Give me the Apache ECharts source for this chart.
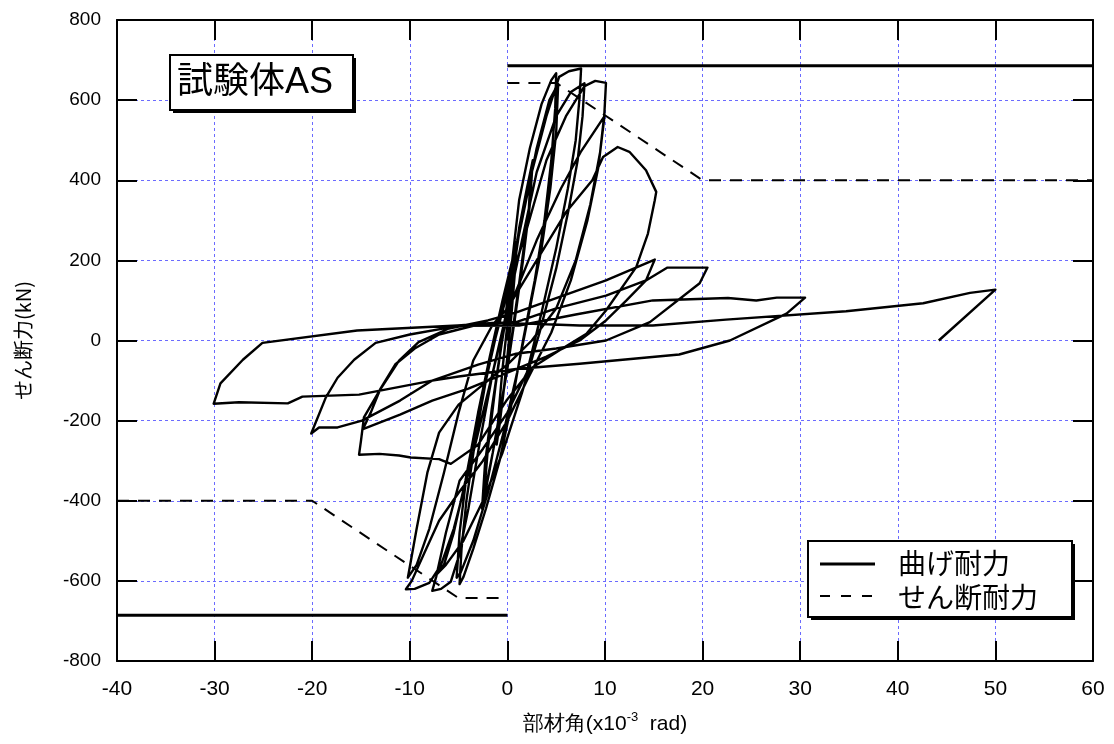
<!DOCTYPE html>
<html><head><meta charset="utf-8">
<script src="https://cdn.jsdelivr.net/npm/echarts@6/dist/echarts.min.js"></script>
<style>html,body{margin:0;padding:0;background:#fff}#c{width:1114px;height:744px}</style>
</head><body><div id="c"></div>
<script>
// ---- axis ticks ----
const xTicks = [-40, -30, -20, -10, 0, 10, 20, 30, 40, 50, 60];
const yTicks = [-800, -600, -400, -200, 0, 200, 400, 600, 800];

// ---- reference capacities ----
const flexTop = [[0, 686], [60, 686]];
const flexBot = [[-40, -686], [0, -686]];
const shearTop = [[0, 643], [5, 643], [20, 400], [60, 400]];
const shearBot = [[-40, -400], [-20, -400], [-5, -643], [0, -643]];

// ---- hysteresis path (angle x10^-3 rad, shear kN), by cycle ----
const cyc1 = [[0,0],[0.3,90],[0.6,170],[1.0,250],[0.8,180],[0.4,60],[0,-40],[-0.4,-130],[-0.8,-210],[-1.1,-260],[-0.9,-180],[-0.5,-70],[0,40]];
const cyc2a = [[0.5,150],[1.2,280],[2,380],[2.6,450],[2.3,340],[1.6,200],[0.8,60],[0,-70],[-0.9,-200],[-1.8,-320],[-2.6,-420],[-2.3,-310],[-1.6,-170],[-0.8,-40],[0,80]];
const cyc2b = [[0.6,170],[1.4,300],[2.4,420],[2.2,330],[1.3,160],[0.4,0],[-0.5,-140],[-1.5,-280],[-2.4,-390],[-2.0,-270],[-1.2,-110],[-0.3,40]];
const cyc5a = [[0.5,200],[1.2,350],[2.3,480],[3.5,590],[4.5,650],[5.0,667],[4.9,580],[4.5,450],[3.8,300],[2.8,150],[1.6,0],[0.5,-150],[-0.8,-300],[-2.2,-420],[-3.5,-520],[-4.5,-590],[-4.9,-608],[-4.7,-520],[-4.2,-400],[-3.3,-250],[-2.2,-100],[-1,30],[0.2,150]];
const cyc5b = [[1.5,300],[3,480],[4.3,600],[5.2,640],[5,520],[4.4,380],[3.5,230],[2.3,80],[1,-80],[-0.5,-240],[-2,-380],[-3.5,-500],[-4.8,-580],[-5.2,-592],[-4.9,-480],[-4.2,-340],[-3,-180],[-1.8,-40],[-0.5,100],[1,250]];
const cyc75a = [[2.5,420],[4,560],[5.3,658],[6.3,672],[7.55,679],[7.4,608],[7,500],[6.2,380],[5,230],[3.5,70],[2,-80],[0,-180],[-2.5,-270],[-4.9,-350],[-6.3,-480],[-7.3,-590],[-7.7,-625],[-6.8,-620],[-5.8,-602],[-5,-540],[-4,-420],[-2.8,-250],[-1.5,-80],[0,80],[1.5,250]];
const cyc75b = [[3,420],[5,560],[6.5,620],[7.9,642],[7.7,560],[7.2,450],[6.3,330],[5,180],[3.3,20],[1.5,-130],[-0.5,-280],[-2.5,-400],[-4.5,-500],[-6.3,-560],[-7.3,-585],[-6.5,-560],[-5.5,-480],[-4.3,-350],[-3,-180],[-1.5,-20],[0,120]];
const cyc10a = [[2,280],[4,450],[6,560],[7.9,635],[9.0,648],[10.1,643],[9.9,550],[9.3,430],[8.2,300],[6.5,150],[4.5,20],[2,-100],[0,-200],[-2.5,-300],[-5,-380],[-7,-450],[-8.5,-530],[-9.8,-600],[-10.4,-621],[-9.5,-620],[-8,-605],[-6.8,-560],[-5.5,-470],[-4,-330],[-2.5,-180],[-1,-30],[0.5,100]];
const cyc10b = [[3,250],[5.5,380],[7.5,470],[9.9,558],[9.5,470],[8.5,340],[7,200],[5,80],[2.5,0],[0,-60],[-2.5,-110],[-5,-160],[-7,-230],[-8.2,-330],[-9.3,-470],[-10.2,-592],[-9.3,-560],[-8,-470],[-6.5,-330],[-5,-180],[-3.5,-50],[-1.5,40],[0,80]];
const cyc15a = [[3,200],[6,320],[8.7,400],[9.8,458],[11.3,483],[12.5,471],[14.2,425],[15.25,371],[15.1,350],[14.4,267],[13.2,183],[10.1,75],[8.1,17],[5.3,-25],[2.6,-67],[-0.1,-150],[-3,-260],[-5.8,-308],[-7,-296],[-9.9,-292],[-11.1,-287],[-13.1,-283],[-15.2,-285],[-15,-250],[-14.7,-192],[-13.1,-125],[-11.1,-50],[-9.1,-4],[-6,30],[-2,50],[1,71],[5.5,110],[10.1,150],[15.1,202]];
const cyc15b = [[14.2,150],[12.2,100],[10.1,50],[7.4,0],[4,-40],[0,-80],[-4,-120],[-7.7,-150],[-11,-185],[-14.8,-221],[-14,-180],[-13,-120],[-11.5,-60],[-9.5,-20],[-7,15],[-3,40],[0.9,46],[5,80],[10.1,112],[14.2,150],[16.4,182],[20.5,182]];
const cyc20 = [[19.7,143],[14.6,46],[10.1,0],[5,-20],[0.9,-33],[-3,-60],[-7.7,-100],[-11,-150],[-14.9,-200],[-17.4,-217],[-19.3,-217],[-20.1,-232],[-18.6,-142],[-17.4,-93],[-15.7,-48],[-13.5,-6],[-10,15],[-4.9,37],[1.2,37.5],[7,65],[14.9,100],[22.6,106],[25.5,100],[27.6,107],[30.5,107]];
const cyc30 = [[28.6,67],[22.8,0],[17.6,-35],[7.4,-58],[0.9,-71],[-5,-90],[-7.7,-100],[-15.2,-135],[-21,-140],[-22.5,-157],[-27.5,-154],[-30.1,-158],[-29.4,-107],[-27.1,-48],[-25.1,-6],[-15.4,25],[-5.1,37.5],[-0.8,45],[7.4,37.5],[14.9,37.5],[22.4,52],[34.7,73],[42.6,93],[47.4,119],[50,127],[44.2,0]];

const hysteresis = [].concat(cyc1, cyc2a, cyc2b, cyc5a, cyc5b, cyc75a, cyc75b, cyc10a, cyc10b, cyc15a, cyc15b, cyc20, cyc30);

const chart = echarts.init(document.getElementById('c'), null, {renderer: 'canvas'});
const gridColor = '#6b6bff';
const numFont = "'Liberation Sans', Arial, sans-serif";
const narrowFont = "'Liberation Sans Narrow', 'Liberation Sans', Arial, sans-serif";
const cjkFont = "'Noto Sans CJK JP', 'Liberation Sans', sans-serif";
const mixFont = "'Liberation Sans', 'Noto Sans CJK JP', sans-serif";

const baseAxis = {
  type: 'value', interval: 10, min: xTicks[0], max: xTicks[xTicks.length - 1]
};
chart.setOption({
  animation: false,
  backgroundColor: '#fff',
  grid: {left: 117, top: 20, width: 976, height: 641, containLabel: false},
  xAxis: [
    Object.assign({}, baseAxis, {
      position: 'bottom',
      axisLine: {show: true, onZero: false, lineStyle: {color: '#000', width: 2}},
      axisTick: {show: true, inside: true, length: 20, lineStyle: {color: '#000', width: 2}},
      axisLabel: {show: true, margin: 18, fontSize: 21, color: '#000', fontFamily: narrowFont},
      splitLine: {show: true, lineStyle: {color: gridColor, width: 1, type: [3, 3]}},
      name: '部材角(x10{sup|-3}  rad)', nameLocation: 'middle', nameGap: 50,
      nameTextStyle: {fontSize: 21, color: '#000', fontFamily: narrowFont,
        rich: {sup: {fontSize: 13, color: '#000', fontFamily: narrowFont, padding: [0, 0, 14, 0]}}}
    }),
    Object.assign({}, baseAxis, {
      position: 'top',
      axisLine: {show: true, onZero: false, lineStyle: {color: '#000', width: 2}},
      axisTick: {show: true, inside: true, length: 20, lineStyle: {color: '#000', width: 2}},
      axisLabel: {show: false}, splitLine: {show: false}
    })
  ],
  yAxis: [
    {
      type: 'value', min: yTicks[0], max: yTicks[yTicks.length - 1], interval: 200, position: 'left',
      axisLine: {show: true, onZero: false, lineStyle: {color: '#000', width: 2}},
      axisTick: {show: true, inside: true, length: 20, lineStyle: {color: '#000', width: 2}},
      axisLabel: {show: true, margin: 16, fontSize: 19, color: '#000', fontFamily: numFont},
      splitLine: {show: true, lineStyle: {color: gridColor, width: 1, type: [3, 3]}},
      name: 'せん断力(kN)', nameLocation: 'middle', nameGap: 84, nameRotate: 90,
      nameTextStyle: {fontSize: 20, color: '#000', fontFamily: cjkFont}
    },
    {
      type: 'value', min: yTicks[0], max: yTicks[yTicks.length - 1], interval: 200, position: 'right',
      axisLine: {show: true, onZero: false, lineStyle: {color: '#000', width: 2}},
      axisTick: {show: true, inside: true, length: 20, lineStyle: {color: '#000', width: 2}},
      axisLabel: {show: false}, splitLine: {show: false}
    }
  ],
  series: [
    {type: 'line', name: '履歴', data: hysteresis, showSymbol: false, symbol: 'none',
     lineStyle: {color: '#000', width: 2.4, join: 'round'}, z: 3},
    {type: 'line', name: '曲げ耐力', data: flexTop, showSymbol: false, symbol: 'none',
     lineStyle: {color: '#000', width: 3}, z: 4},
    {type: 'line', name: '曲げ耐力', data: flexBot, showSymbol: false, symbol: 'none',
     lineStyle: {color: '#000', width: 3}, z: 4},
    {type: 'line', name: 'せん断耐力', data: shearTop, showSymbol: false, symbol: 'none',
     lineStyle: {color: '#000', width: 2, type: [12, 9]}, z: 4},
    {type: 'line', name: 'せん断耐力', data: shearBot, showSymbol: false, symbol: 'none',
     lineStyle: {color: '#000', width: 2, type: [12, 9]}, z: 4}
  ],
  graphic: [
    // title box
    {type: 'rect', shape: {x: 173, y: 58, width: 183, height: 55}, style: {fill: '#000'}, z: 10},
    {type: 'rect', shape: {x: 170, y: 55, width: 183, height: 55}, style: {fill: '#fff', stroke: '#000', lineWidth: 2}, z: 11},
    {type: 'text', x: 177, y: 83, style: {text: '試験体AS', fontSize: 36, fontFamily: mixFont, fill: '#000', verticalAlign: 'middle', align: 'left'}, z: 12},
    // legend box
    {type: 'rect', shape: {x: 811, y: 544, width: 264, height: 76}, style: {fill: '#000'}, z: 10},
    {type: 'rect', shape: {x: 808, y: 541, width: 264, height: 76}, style: {fill: '#fff', stroke: '#000', lineWidth: 2}, z: 11},
    {type: 'line', shape: {x1: 820, y1: 564, x2: 875, y2: 564}, style: {stroke: '#000', lineWidth: 3}, z: 12},
    {type: 'line', shape: {x1: 820, y1: 596, x2: 875, y2: 596}, style: {stroke: '#000', lineWidth: 2, lineDash: [10, 11]}, z: 12},
    {type: 'text', x: 898, y: 563, style: {text: '曲げ耐力', fontSize: 28, fontFamily: cjkFont, fill: '#000', verticalAlign: 'middle'}, z: 12},
    {type: 'text', x: 898, y: 597, style: {text: 'せん断耐力', fontSize: 28, fontFamily: cjkFont, fill: '#000', verticalAlign: 'middle'}, z: 12}
  ]
});
</script></body></html>
